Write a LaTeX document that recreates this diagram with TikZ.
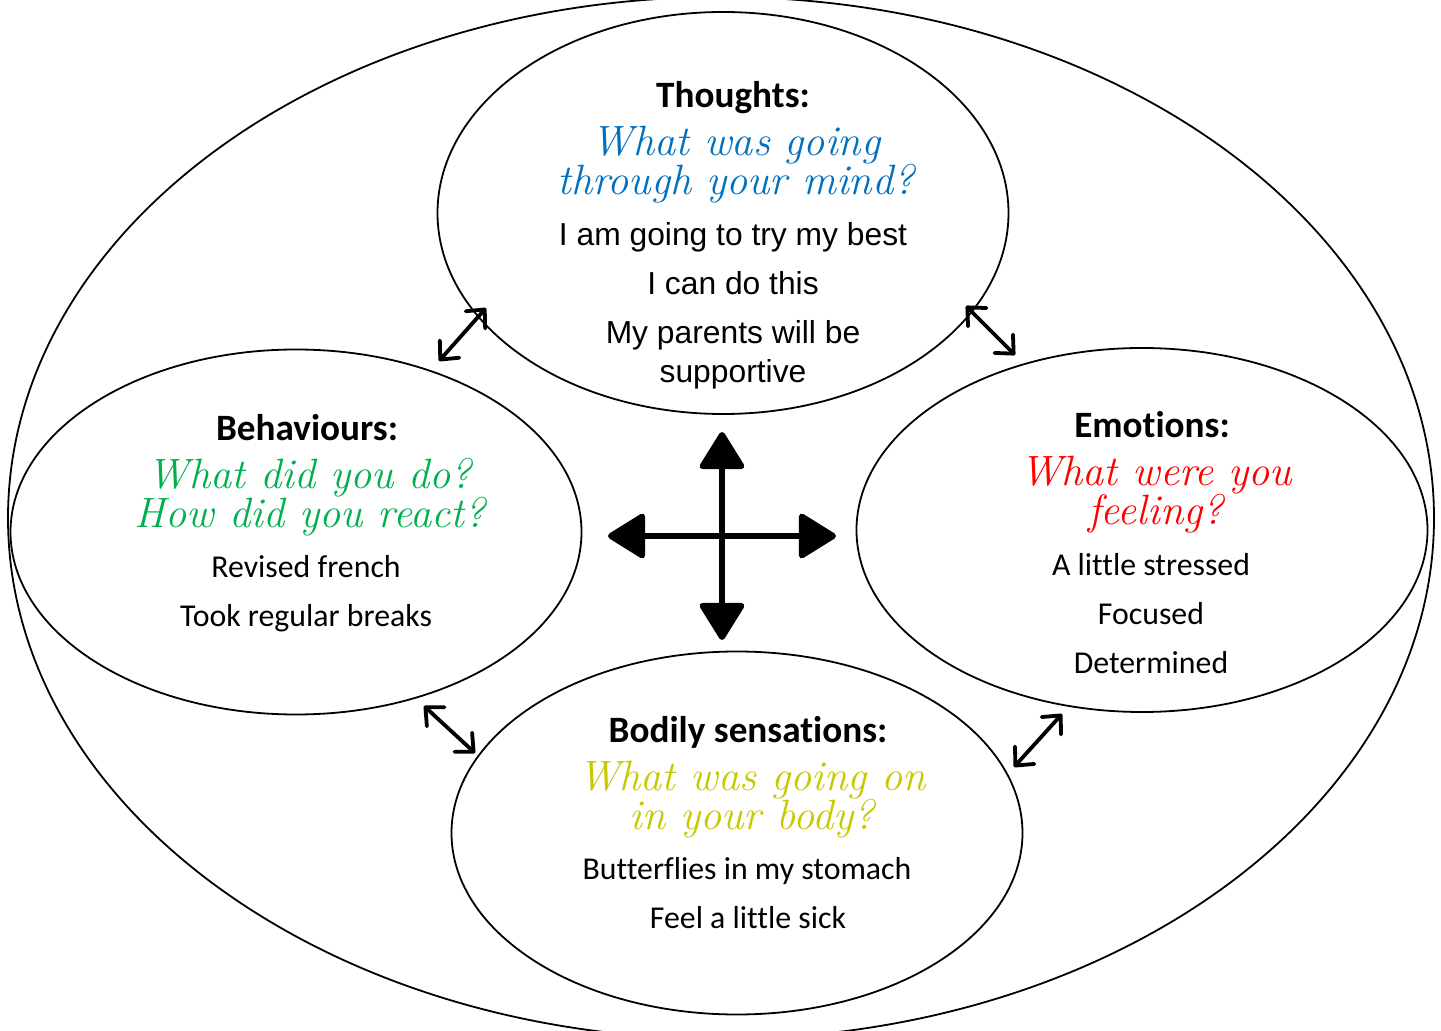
\documentclass[tikz,border=0pt]{standalone}
\usepackage{fontspec}
\newfontfamily\arialf{Liberation Sans}
\newfontfamily\calf[Ligatures=NoCommon]{Carlito}
\usetikzlibrary{shapes.geometric,arrows.meta}
\definecolor{tblue}{RGB}{0,112,192}
\definecolor{tgreen}{RGB}{0,176,80}
\definecolor{tred}{RGB}{255,0,0}
\definecolor{tyellow}{RGB}{200,200,0}
\begin{document}
\begin{tikzpicture}[x=0.5pt,y=-0.5pt,
 bubble/.style={draw,ellipse,inner sep=0pt,line width=0.9pt},
 head/.style={anchor=base,inner sep=0pt,font=\calf\bfseries\fontsize{18.6}{22}\selectfont},
 hand/.style={anchor=base,inner sep=0pt,align=center,font=\itshape\fontsize{21.2}{19.5}\selectfont},
 arl/.style={anchor=base,inner sep=0pt,font=\arialf\fontsize{15.9}{19}\selectfont},
 cal/.style={anchor=base,inner sep=0pt,font=\calf\fontsize{15.9}{19}\selectfont},
 link/.style={line width=1.9pt,line cap=round,{Straight Barb[length=7pt,width=13pt,round]}-{Straight Barb[length=7pt,width=13pt,round]}},
 big/.style={line width=3pt,{Triangle[length=20pt,width=24pt,round]}-{Triangle[length=20pt,width=24pt,round]}}]
\useasboundingbox (0,0) rectangle (1441,1031);
\clip (0,0) rectangle (1441,1031);
\fill[white] (0,0) rectangle (1441,1031);
% outer ellipse
\node[bubble,minimum width=713pt,minimum height=521pt] (outer) at (721,518) {};
% four ellipses
\node[bubble,minimum width=285.5pt,minimum height=201pt] (thoughts) at (723,213) {};
\node[bubble,minimum width=285.5pt,minimum height=182.5pt] (behav) at (296,532) {};
\node[bubble,minimum width=285.5pt,minimum height=182pt] (emot) at (1142,530) {};
\node[bubble,minimum width=285.5pt,minimum height=181.5pt] (body) at (737,833) {};
% Thoughts texts (hand nodes anchored at the baseline of their last line)
\node[head] (t1) at (733,108) {Thoughts:};
\node[hand,text=tblue] (t2) at (736,195) {What was going\\through your mind?};
\node[arl] (t4) at (733,246) {I am going to try my best};
\node[arl] (t5) at (733,295) {I can do this};
\node[arl] (t6) at (733,344) {My parents will be};
\node[arl] (t7) at (733,383) {supportive};
% Behaviours texts
\node[head] (b1) at (307,441) {Behaviours:};
\node[hand,text=tgreen] (b2) at (310,528) {What did you do?\\How did you react?};
\node[cal] (b4) at (306,578) {Revised french};
\node[cal] (b5) at (306,627) {Took regular breaks};
% Emotions texts
\node[head] (e1) at (1152,438) {Emotions:};
\node[hand,text=tred] (e2) at (1156,525) {What were you\\feeling?};
\node[cal] (e4) at (1151,576) {A little stressed};
\node[cal] (e5) at (1151,625) {Focused};
\node[cal] (e6) at (1151,674) {Determined};
% Bodily texts
\node[head] (s1) at (748,742) {Bodily sensations:};
\node[hand,text=tyellow] (s2) at (752,829) {What was going on\\in your body?};
\node[cal] (s4) at (747,879) {Butterflies in my stomach};
\node[cal] (s5) at (748,928) {Feel a little sick};
% double arrows between bubbles
\coordinate (a1s) at (439,361); \coordinate (a1e) at (486,308);
\coordinate (a2s) at (966,306); \coordinate (a2e) at (1015,355);
\coordinate (a3s) at (424,706); \coordinate (a3e) at (475,753);
\coordinate (a4s) at (1014,767); \coordinate (a4e) at (1062,714);
\draw[link] (a1s) -- (a1e);
\draw[link] (a2s) -- (a2e);
\draw[link] (a3s) -- (a3e);
\draw[link] (a4s) -- (a4e);
% central cross
\coordinate (cu) at (722,432); \coordinate (cd) at (722,640);
\coordinate (cl) at (608,536); \coordinate (cr) at (836,536);
\draw[big] (cl) -- (cr);
\draw[big] (cu) -- (cd);
\end{tikzpicture}
\end{document}
